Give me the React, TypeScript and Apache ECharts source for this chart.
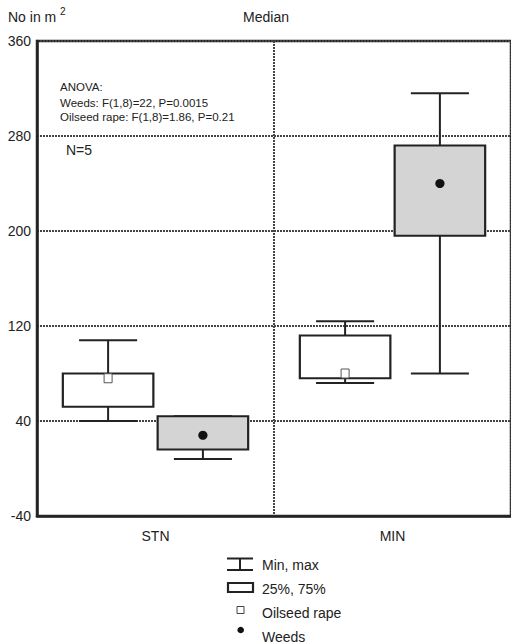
import React, { useEffect, useRef } from "react";
import * as echarts from "echarts";

const categories = ["STN", "MIN"];
// [categoryIndex, min, q1, median, q3, max]
const oilseedRape = [
  [0, 40, 52, 76, 80, 108],
  [1, 72, 76, 80, 112, 124],
];
const weeds = [
  [0, 8, 16, 28, 44, 44],
  [1, 80, 196, 240, 272, 316],
];
const yTicks = { min: -40, max: 360, interval: 80 };
const anovaLines = [
  "ANOVA:",
  "Weeds: F(1,8)=22, P=0.0015",
  "Oilseed rape: F(1,8)=1.86, P=0.21",
];
const legendLabels = ["Min, max", "25%, 75%", "Oilseed rape", "Weeds"];

const FONT = "'Liberation Sans', Arial, sans-serif";
const INK = "#222";

function makeRenderer(offsetFrac: number, fill: string, marker: "square" | "dot") {
  return (params: any, api: any) => {
    const cat = api.value(0);
    const band = api.size([1, 0])[0];
    const cx = api.coord([cat, 0])[0] + offsetFrac * band;
    const yMin = api.coord([cat, api.value(1)])[1];
    const yQ1 = api.coord([cat, api.value(2)])[1];
    const yMed = api.coord([cat, api.value(3)])[1];
    const yQ3 = api.coord([cat, api.value(4)])[1];
    const yMax = api.coord([cat, api.value(5)])[1];
    const boxW = band * 0.382;
    const capW = band * 0.245;
    const lineStyle = { stroke: INK, lineWidth: 2 };
    const children: any[] = [
      { type: "line", shape: { x1: cx, y1: yMin, x2: cx, y2: yQ1 }, style: lineStyle },
      { type: "line", shape: { x1: cx, y1: yQ3, x2: cx, y2: yMax }, style: lineStyle },
      { type: "line", shape: { x1: cx - capW / 2, y1: yMin, x2: cx + capW / 2, y2: yMin }, style: lineStyle },
      { type: "line", shape: { x1: cx - capW / 2, y1: yMax, x2: cx + capW / 2, y2: yMax }, style: lineStyle },
      {
        type: "rect",
        shape: { x: cx - boxW / 2, y: yQ3, width: boxW, height: yQ1 - yQ3 },
        style: { fill, stroke: INK, lineWidth: 2.2 },
      },
    ];
    if (marker === "square") {
      children.push({
        type: "rect",
        shape: { x: cx - 4, y: yMed - 4.5, width: 8, height: 9 },
        style: { fill: "#fff", stroke: "#555", lineWidth: 1 },
      });
    } else {
      children.push({
        type: "circle",
        shape: { cx, cy: yMed, r: 4.6 },
        style: { fill: "#111" },
      });
    }
    return { type: "group", children };
  };
}

export default function App() {
  const ref = useRef<HTMLDivElement>(null);
  useEffect(() => {
    if (!ref.current) return;
    const chart = echarts.init(ref.current, undefined, { renderer: "svg" });
    const textStyle = (size: number) => ({ fill: INK, fontSize: size, fontFamily: FONT });
    const legendX = 227;
    const option: any = {
      animation: false,
      backgroundColor: "#fff",
      grid: {
        left: 37,
        right: -4,
        top: 41,
        bottom: 128,
        show: true,
        borderColor: INK,
        borderWidth: 2.5,
        backgroundColor: "transparent",
      },
      xAxis: {
        type: "category",
        data: categories,
        boundaryGap: true,
        axisLine: { show: true, onZero: false, lineStyle: { color: INK, width: 2.5 } },
        axisTick: { show: false },
        axisLabel: { color: INK, fontSize: 14, fontFamily: FONT, margin: 13 },
        splitLine: { show: true, interval: 0, lineStyle: { color: "#444", width: 2, type: [2, 1] } },
      },
      yAxis: {
        type: "value",
        min: yTicks.min,
        max: yTicks.max,
        interval: yTicks.interval,
        axisLine: { show: true, onZero: false, lineStyle: { color: INK, width: 2.5 } },
        axisTick: { show: false },
        axisLabel: { color: INK, fontSize: 14, fontFamily: FONT, margin: 6 },
        splitLine: { show: true, lineStyle: { color: "#444", width: 2, type: [2, 1] } },
      },
      series: [
        {
          type: "custom",
          name: "Oilseed rape",
          renderItem: makeRenderer(-0.2, "#fff", "square"),
          data: oilseedRape,
          encode: { x: 0, y: [1, 2, 3, 4, 5] },
          z: 5,
        },
        {
          type: "custom",
          name: "Weeds",
          renderItem: makeRenderer(0.2, "#d4d4d4", "dot"),
          data: weeds,
          encode: { x: 0, y: [1, 2, 3, 4, 5] },
          z: 5,
        },
      ],
      graphic: [
        { type: "text", left: 8, top: 10, style: { text: "No in m", ...textStyle(14) } },
        { type: "text", left: 60, top: 6, style: { text: "2", ...textStyle(10) } },
        { type: "text", x: 266, y: 17, style: { text: "Median", ...textStyle(14), align: "center", verticalAlign: "middle" } },
        ...anovaLines.map((t, i) => ({
          type: "text",
          x: 60,
          y: [86.5, 102.5, 117][i],
          style: { text: t, ...textStyle(11.5), verticalAlign: "middle" },
        })),
        { type: "text", x: 66, y: 150, style: { text: "N=5", ...textStyle(14), verticalAlign: "middle" } },
        // legend icons
        { type: "line", shape: { x1: legendX, y1: 558.5, x2: legendX + 26, y2: 558.5 }, style: { stroke: INK, lineWidth: 2 } },
        { type: "line", shape: { x1: legendX, y1: 570, x2: legendX + 26, y2: 570 }, style: { stroke: INK, lineWidth: 2 } },
        { type: "line", shape: { x1: legendX + 13, y1: 558.5, x2: legendX + 13, y2: 570 }, style: { stroke: INK, lineWidth: 2 } },
        { type: "rect", shape: { x: legendX + 1, y: 583, width: 25, height: 9 }, style: { fill: "#fff", stroke: INK, lineWidth: 2.2 } },
        { type: "rect", shape: { x: 237, y: 606.5, width: 7, height: 7 }, style: { fill: "#fff", stroke: "#444", lineWidth: 1 } },
        { type: "circle", shape: { cx: 240.7, cy: 630, r: 3.3 }, style: { fill: "#111" } },
        ...legendLabels.map((t, i) => ({
          type: "text",
          x: 262,
          y: [565, 589, 612.5, 637][i],
          style: { text: t, ...textStyle(14), verticalAlign: "middle" },
        })),
      ],
    };
    chart.setOption(option);
    return () => chart.dispose();
  }, []);
  return (
    <div
      ref={ref}
      style={{ position: "fixed", left: 0, top: 0, width: 511, height: 644 }}
    />
  );
}
